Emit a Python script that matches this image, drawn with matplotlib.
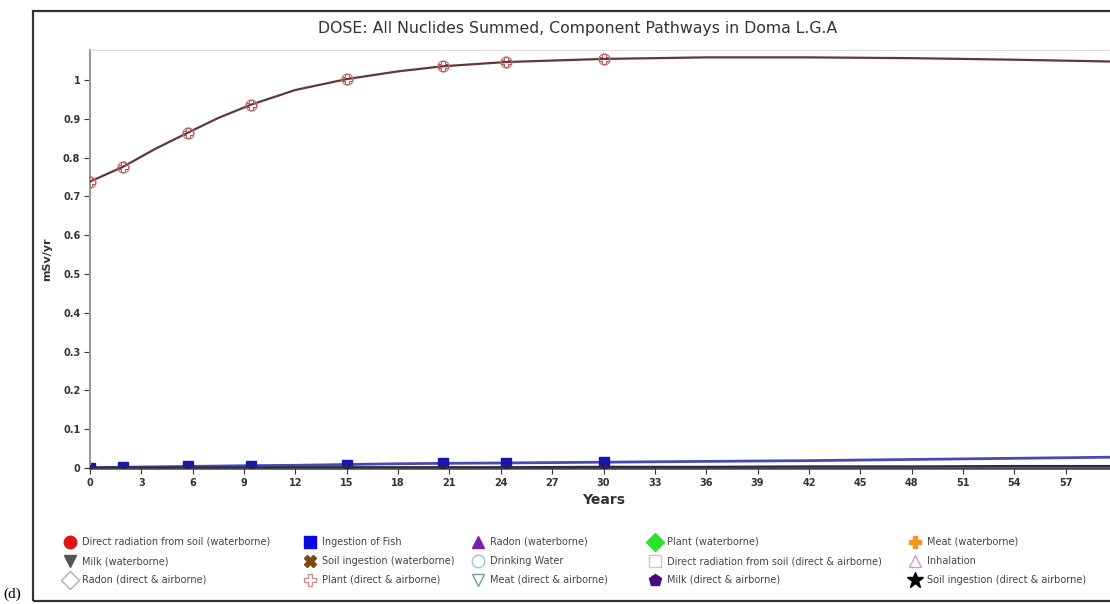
import matplotlib.pyplot as plt
from matplotlib.lines import Line2D
from matplotlib.patches import Rectangle

# dose curves over time (years)
years = [0, 1.93, 3.8, 5.72, 7.5, 9.4, 12, 15, 18, 20.6, 24.3, 30, 36, 42, 48, 54, 60]
plant_air = [0.738, 0.776, 0.822, 0.864, 0.902, 0.936, 0.974, 1.002, 1.022, 1.035,
             1.046, 1.054, 1.058, 1.058, 1.056, 1.052, 1.047]
fish = [0.001, 0.002, 0.003, 0.004, 0.005, 0.006, 0.007, 0.009, 0.011, 0.012,
        0.013, 0.015, 0.017, 0.019, 0.022, 0.025, 0.028]
radon_water = [0.000, 0.001, 0.001, 0.001, 0.001, 0.001, 0.002, 0.002, 0.002,
               0.002, 0.002, 0.003, 0.003, 0.004, 0.004, 0.005, 0.005]
marker_idx = [0, 1, 3, 5, 7, 9, 10, 11]

xticks = list(range(0, 61, 3))
yticks = [0, 0.1, 0.2, 0.3, 0.4, 0.5, 0.6, 0.7, 0.8, 0.9, 1]
ytick_labels = ['0', '0.1', '0.2', '0.3', '0.4', '0.5', '0.6', '0.7', '0.8', '0.9', '1']

# legend entries: (label, marker, face, edge)
legend_cols = [
    [('Direct radiation from soil (waterborne)', 'o', '#e01515', '#e01515'),
     ('Milk (waterborne)', 'v', '#555555', '#555555'),
     ('Radon (direct & airborne)', 'D', 'none', '#b0b0b0')],
    [('Ingestion of Fish', 's', '#0a0ae6', '#0a0ae6'),
     ('Soil ingestion (waterborne)', 'X', '#7a4a12', '#7a4a12'),
     ('Plant (direct & airborne)', 'P', 'none', '#c89090')],
    [('Radon (waterborne)', '^', '#7a20b0', '#7a20b0'),
     ('Drinking Water', 'o', 'none', '#9cc4d8'),
     ('Meat (direct & airborne)', 'v', 'none', '#6ea0a8')],
    [('Plant (waterborne)', 'D', '#2ee02e', '#2ee02e'),
     ('Direct radiation from soil (direct & airborne)', 's', 'none', '#e8b8c8'),
     ('Milk (direct & airborne)', 'p', '#4a0a80', '#4a0a80')],
    [('Meat (waterborne)', 'P', '#f59620', '#f59620'),
     ('Inhalation', '^', 'none', '#d49ad4'),
     ('Soil ingestion (direct & airborne)', '*', '#000000', '#000000')],
]

W, H = 1110, 604
fig = plt.figure(figsize=(W / 100, H / 100), dpi=100)

# outer frame, runs off the right edge
fig.add_artist(Rectangle((33 / W, 1 - 601 / H), 1.2, (601 - 11) / H,
                         transform=fig.transFigure, fill=False,
                         edgecolor='#333333', lw=1.6))
fig.text(3 / W, 1 - 598 / H, '(d)', fontsize=11, family='Liberation Serif',
         va='baseline', ha='left')

ax = fig.add_axes([90 / W, 1 - 468 / H, (1117 - 90) / W, (468 - 50) / H])
ax.set_xlim(0, 60)
ax.set_ylim(0, 1.077)

ax.plot(years, radon_water, color='#2b2b45', lw=1.6, marker='^', ms=5,
        markevery=marker_idx, mfc='#2b2250', mec='#2b2250', zorder=3)
ax.plot(years, fish, color='#4848b8', lw=2.0, marker='s', ms=6.5,
        markevery=marker_idx, mfc='#1616b0', mec='#1616b0', zorder=2)
ax.plot(years, plant_air, color='#5e3a3a', lw=1.6, zorder=3)
ax.plot(years, plant_air, color='none', marker='P', ms=7,
        markevery=marker_idx, mfc='none', mec='#b85050', mew=0.8, zorder=4)
ax.plot(years, plant_air, color='none', marker='o', ms=8,
        markevery=marker_idx, mfc='none', mec='#c07070', mew=0.8, zorder=4)

ax.set_xticks(xticks)
ax.set_xticklabels([str(v) for v in xticks])
ax.set_yticks(yticks)
ax.set_yticklabels(ytick_labels)
ax.tick_params(axis='both', labelsize=7, colors='#333333', length=4,
               width=0.8, pad=3)
for lab in ax.get_xticklabels() + ax.get_yticklabels():
    lab.set_fontweight('bold')

ax.spines['left'].set_color('#999999')
ax.spines['left'].set_linewidth(1.5)
ax.spines['bottom'].set_color('#444444')
ax.spines['bottom'].set_linewidth(1.8)
ax.spines['top'].set_color('#dddddd')
ax.spines['right'].set_visible(False)

ax.set_xlabel('Years', fontsize=10, fontweight='bold', color='#333333',
              labelpad=4)
ax.set_ylabel('mSv/yr', fontsize=8, fontweight='bold', color='#333333',
              labelpad=8)

fig.text(578 / W, 1 - 28 / H,
         'DOSE: All Nuclides Summed, Component Pathways in Doma L.G.A',
         ha='center', va='center', fontsize=11.3, color='#333333')

# legend grid below the plot
col_x = [70, 310, 478, 655, 915]
row_y = [542, 561, 580]
for cx, col in zip(col_x, legend_cols):
    for ry, (label, mk, fc, ec) in zip(row_y, col):
        size = 12 if mk == '*' else 9
        fig.add_artist(Line2D([cx / W], [1 - ry / H], transform=fig.transFigure,
                              marker=mk, ms=size, mfc=fc, mec=ec, mew=1.0,
                              linestyle='none'))
        fig.text((cx + 12) / W, 1 - ry / H, label, fontsize=7,
                 color='#444444', va='center', ha='left')

fig.savefig('out.png', dpi=100)
